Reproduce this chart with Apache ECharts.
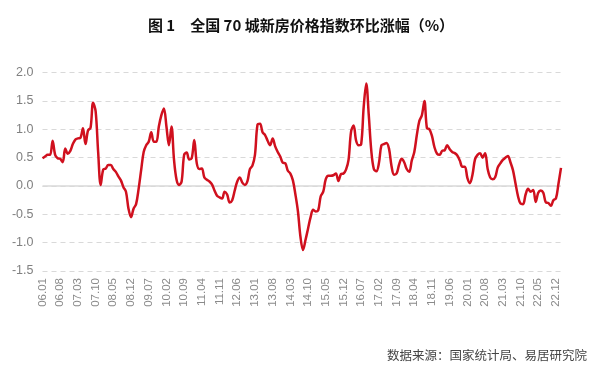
<!DOCTYPE html>
<html>
<head>
<meta charset="utf-8">
<script src="https://cdn.jsdelivr.net/npm/echarts@6/dist/echarts.min.js"></script>
<style>
html,body{margin:0;padding:0;background:#fff;}
#c{width:600px;height:370px;}
</style>
</head>
<body>
<div id="c"></div>
<script>
// Chart text
const titleText = '图 1　全国 70 城新房价格指数环比涨幅（%）';
const sourceText = '数据来源：国家统计局、易居研究院';

// Category range: monthly, 2006.01 – 2023.02
const startYear = 2006, startMonth = 1, endYear = 2023, endMonth = 2;
const categories = [];
for (let y = startYear, m = startMonth; y < endYear || (y === endYear && m <= endMonth); ) {
  categories.push(String(y % 100).padStart(2, '0') + '.' + String(m).padStart(2, '0'));
  m++; if (m > 12) { m = 1; y++; }
}

// Y axis ticks
const yMin = -1.5, yMax = 2.0, yStep = 0.5;

// MoM change (%), 2006.01 onward
const values2006_2008 = [
  0.49, 0.52, 0.55, 0.55, 0.80, 0.55, 0.49, 0.48, 0.42, 0.66, 0.57, 0.62,
  0.74, 0.82, 0.84, 0.85, 1.02, 0.74, 0.98, 1.03, 1.47, 1.32, 0.60, 0.02,
  0.29, 0.31, 0.37, 0.37, 0.30, 0.25, 0.17, 0.10, -0.02, -0.10, -0.40, -0.55
];
const values2009_2011 = [
  -0.40, -0.32, -0.05, 0.28, 0.60, 0.72, 0.78, 0.95, 0.78, 0.78, 1.05, 1.25,
  1.37, 1.05, 0.72, 1.05, 0.46, 0.11, 0.02, 0.08, 0.55, 0.59, 0.47, 0.49,
  0.81, 0.40, 0.30, 0.31, 0.15, 0.11, 0.08, 0.03, -0.08, -0.17, -0.20, -0.22
];
const values2012_2014 = [
  -0.10, -0.15, -0.29, -0.25, -0.08, 0.08, 0.15, 0.06, 0.02, 0.08, 0.30, 0.36,
  0.55, 1.08, 1.10, 0.95, 0.90, 0.80, 0.72, 0.84, 0.70, 0.60, 0.52, 0.41,
  0.40, 0.27, 0.22, 0.10, -0.15, -0.45, -0.90, -1.13, -0.95, -0.75, -0.55, -0.42
];
const values2015_2017 = [
  -0.45, -0.43, -0.18, -0.10, 0.12, 0.18, 0.18, 0.19, 0.22, 0.09, 0.21, 0.22,
  0.29, 0.46, 0.96, 1.07, 0.80, 0.72, 0.74, 1.40, 1.81, 1.25, 0.62, 0.30,
  0.26, 0.40, 0.72, 0.74, 0.76, 0.66, 0.35, 0.20, 0.22, 0.38, 0.48, 0.42
];
const values2018_2020 = [
  0.30, 0.25, 0.45, 0.60, 0.90, 1.15, 1.25, 1.50, 1.02, 1.00, 0.88, 0.68,
  0.57, 0.55, 0.62, 0.63, 0.72, 0.65, 0.60, 0.58, 0.54, 0.45, 0.34, 0.34,
  0.14, 0.05, 0.20, 0.47, 0.55, 0.58, 0.50, 0.58, 0.30, 0.15, 0.12, 0.16
];
const values2021_2023 = [
  0.33, 0.40, 0.46, 0.50, 0.53, 0.42, 0.28, 0.05, -0.18, -0.31, -0.32, -0.15,
  -0.05, -0.10, -0.07, -0.28, -0.12, -0.08, -0.12, -0.29, -0.30, -0.35, -0.25, -0.22,
  0.04, 0.32
];
const values = [].concat(values2006_2008, values2009_2011, values2012_2014,
  values2015_2017, values2018_2020, values2021_2023);

const chart = echarts.init(document.getElementById('c'), null, {renderer: 'canvas'});
chart.setOption({
  animation: false,
  backgroundColor: '#ffffff',
  title: [{
    text: titleText,
    left: 296, top: 13, textAlign: 'center',
    textStyle: {fontFamily: '"Noto Sans CJK SC", sans-serif', fontSize: 15, fontWeight: 'bold', color: '#111'}
  }, {
    text: sourceText,
    right: 8, top: 344,
    textStyle: {fontFamily: '"Noto Sans CJK SC", sans-serif', fontSize: 12.5, fontWeight: 'normal', color: '#444'}
  }],
  grid: {left: 42.5, right: 39, top: 72.7, bottom: 99, containLabel: false},
  xAxis: {
    type: 'category',
    data: categories,
    boundaryGap: false,
    axisLine: {show: false},
    axisTick: {show: false},
    axisLabel: {
      interval: 6, rotate: 90, margin: 7,
      color: '#8a8a8a', fontSize: 11.5, fontFamily: 'Arial, "Liberation Sans", sans-serif'
    },
    splitLine: {show: false}
  },
  yAxis: {
    type: 'value',
    min: yMin, max: yMax, interval: yStep,
    axisLine: {show: false},
    axisTick: {show: false},
    axisLabel: {
      margin: 9, color: '#808080', fontSize: 12.5,
      fontFamily: 'Arial, "Liberation Sans", sans-serif',
      formatter: v => v.toFixed(1)
    },
    splitLine: {lineStyle: {color: '#d9d9d9', type: [5, 4], width: 1}}
  },
  series: [{
    type: 'line',
    data: values,
    smooth: 0.35,
    showSymbol: false,
    lineStyle: {color: '#d0101e', width: 2.5},
    z: 3,
    markLine: {
      silent: true,
      symbol: 'none',
      label: {show: false},
      lineStyle: {color: '#d9d9d9', type: 'solid', width: 1.5},
      data: [{yAxis: 0}],
      z: 1
    }
  }]
});
</script>
</body>
</html>
